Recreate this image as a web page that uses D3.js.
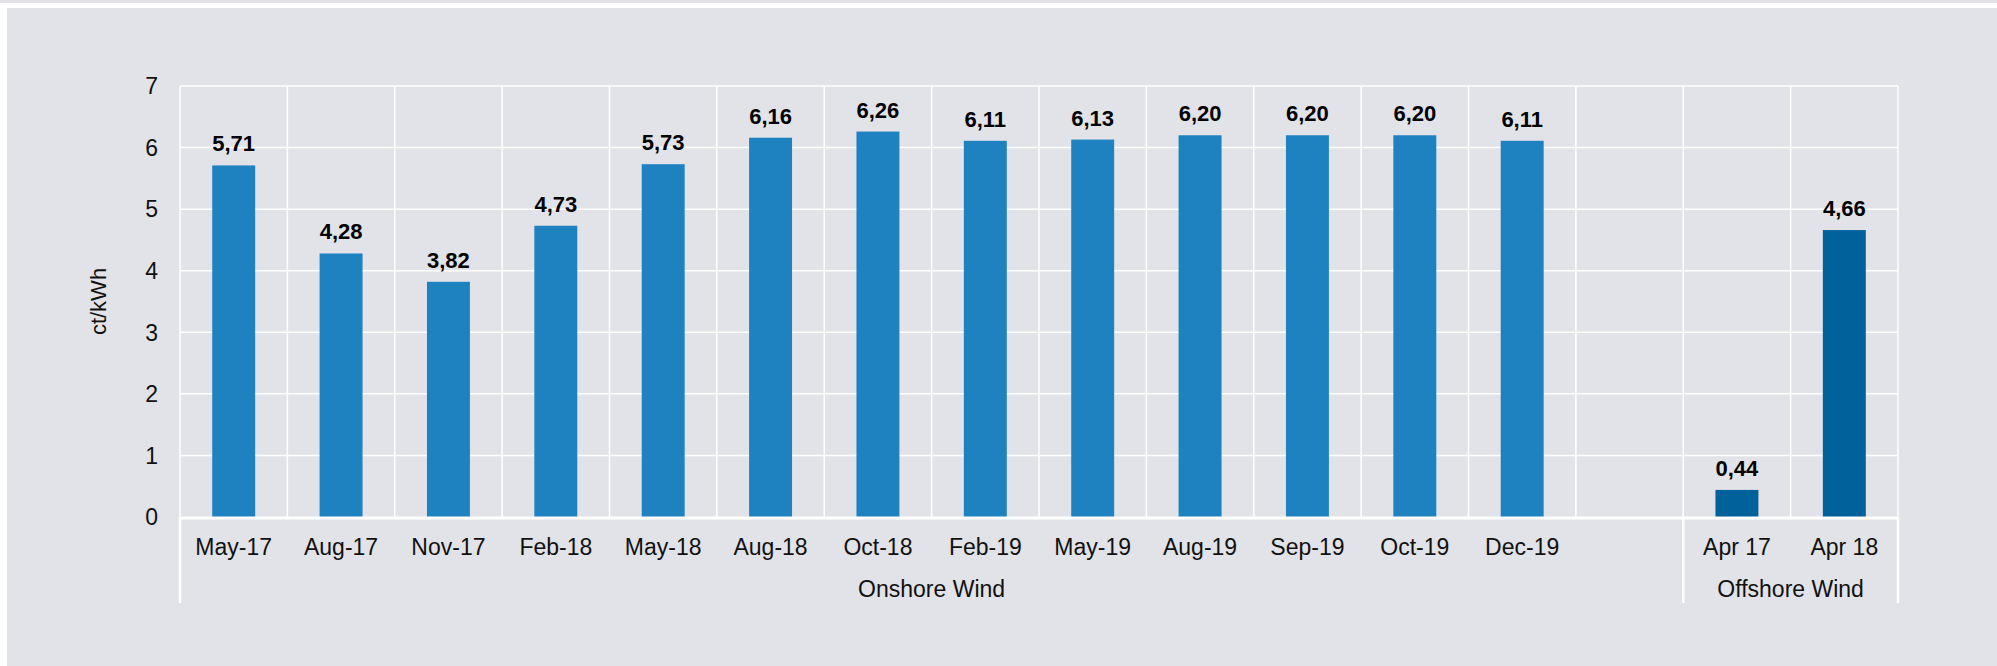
<!DOCTYPE html>
<html>
<head>
<meta charset="utf-8">
<script src="https://cdn.jsdelivr.net/npm/d3@7"></script>
<style>
  body { margin: 0; background: #fff; }
  svg { display: block; font-family: "Liberation Sans", Arial, sans-serif; }
</style>
</head>
<body>
<script>
// data
const onshoreCats = ["May-17", "Aug-17", "Nov-17", "Feb-18", "May-18", "Aug-18", "Oct-18",
  "Feb-19", "May-19", "Aug-19", "Sep-19", "Oct-19", "Dec-19"];
const onshoreValues = [5.71, 4.28, 3.82, 4.73, 5.73, 6.16, 6.26, 6.11, 6.13, 6.20, 6.20, 6.20, 6.11];
const offshoreCats = ["Apr 17", "Apr 18"];
const offshoreValues = [0.44, 4.66];
const groups = ["Onshore Wind", "Offshore Wind"];
const yTicks = [0, 1, 2, 3, 4, 5, 6, 7];

const W = 1997, H = 666;
const plotLeft = 180, plotRight = 1898, plotTop = 86, plotBottom = 517;

const gapKey = "gap";
const domain = [...onshoreCats, gapKey, ...offshoreCats];
const bars = [
  ...onshoreCats.map((c, i) => ({ cat: c, v: onshoreValues[i], color: "#1f82c0" })),
  ...offshoreCats.map((c, i) => ({ cat: c, v: offshoreValues[i], color: "#00619b" }))
];

const svg = d3.select("body").append("svg")
  .attr("width", W)
  .attr("height", H);

// background panel
svg.append("rect").attr("x", 0).attr("y", 0).attr("width", W).attr("height", H).attr("fill", "#e2e3e8");
svg.append("rect").attr("x", 0).attr("y", 3).attr("width", W).attr("height", 5).attr("fill", "#fff");
svg.append("rect").attr("x", 0).attr("y", 3).attr("width", 7).attr("height", H).attr("fill", "#fff");

const x = d3.scaleBand()
  .domain(domain)
  .range([plotLeft, plotRight])
  .paddingInner(0.6)
  .paddingOuter(0.3);

const y = d3.scaleLinear()
  .domain([0, 7])
  .range([plotBottom, plotTop]);

const step = x.step();
const x0 = x.range()[0];

// horizontal grid
svg.append("g").selectAll("line")
  .data(yTicks.filter(t => t > 0))
  .enter().append("line")
  .attr("x1", plotLeft).attr("x2", plotRight)
  .attr("y1", d => y(d)).attr("y2", d => y(d))
  .attr("stroke", "#fff").attr("stroke-width", 1.5);

// vertical grid at category boundaries
svg.append("g").selectAll("line")
  .data(d3.range(domain.length + 1))
  .enter().append("line")
  .attr("x1", i => x0 + i * step).attr("x2", i => x0 + i * step)
  .attr("y1", plotTop).attr("y2", plotBottom)
  .attr("stroke", "#fff").attr("stroke-width", 1.5);

// bars
svg.append("g").selectAll("rect")
  .data(bars)
  .enter().append("rect")
  .attr("x", d => x(d.cat))
  .attr("y", d => y(d.v))
  .attr("width", x.bandwidth())
  .attr("height", d => y(0) - y(d.v))
  .attr("fill", d => d.color);

// value labels
svg.append("g").selectAll("text")
  .data(bars)
  .enter().append("text")
  .attr("x", d => x(d.cat) + x.bandwidth() / 2)
  .attr("y", d => y(d.v) - 14)
  .attr("text-anchor", "middle")
  .attr("font-size", 22)
  .attr("font-weight", "bold")
  .attr("fill", "#000")
  .text(d => d.v.toFixed(2).replace(".", ","));

// x axis line
svg.append("line")
  .attr("x1", plotLeft).attr("x2", plotRight)
  .attr("y1", plotBottom + 1).attr("y2", plotBottom + 1)
  .attr("stroke", "#fff").attr("stroke-width", 3);

// group separators below axis
const sepIdx = [0, onshoreCats.length + 1, domain.length];
svg.append("g").selectAll("line")
  .data(sepIdx)
  .enter().append("line")
  .attr("x1", i => x0 + i * step).attr("x2", i => x0 + i * step)
  .attr("y1", plotBottom).attr("y2", 603)
  .attr("stroke", "#fff").attr("stroke-width", 2.5);

// x tick labels
svg.append("g").selectAll("text")
  .data(bars)
  .enter().append("text")
  .attr("x", d => x(d.cat) + x.bandwidth() / 2)
  .attr("y", 555)
  .attr("text-anchor", "middle")
  .attr("font-size", 23)
  .attr("fill", "#111")
  .text(d => d.cat);

// group labels
const groupSpans = [[0, onshoreCats.length + 1], [onshoreCats.length + 1, domain.length]];
svg.append("g").selectAll("text")
  .data(groups)
  .enter().append("text")
  .attr("x", (d, i) => x0 + (groupSpans[i][0] + groupSpans[i][1]) / 2 * step)
  .attr("y", 597)
  .attr("text-anchor", "middle")
  .attr("font-size", 23)
  .attr("fill", "#111")
  .text(d => d);

// y tick labels
svg.append("g").selectAll("text")
  .data(yTicks)
  .enter().append("text")
  .attr("x", 158)
  .attr("y", d => y(d))
  .attr("dy", "0.36em")
  .attr("text-anchor", "end")
  .attr("font-size", 23)
  .attr("fill", "#111")
  .text(d => d);

// y axis title
svg.append("text")
  .attr("transform", `translate(106, ${(plotTop + plotBottom) / 2}) rotate(-90)`)
  .attr("text-anchor", "middle")
  .attr("font-size", 22)
  .attr("fill", "#111")
  .text("ct/kWh");
</script>
</body>
</html>
